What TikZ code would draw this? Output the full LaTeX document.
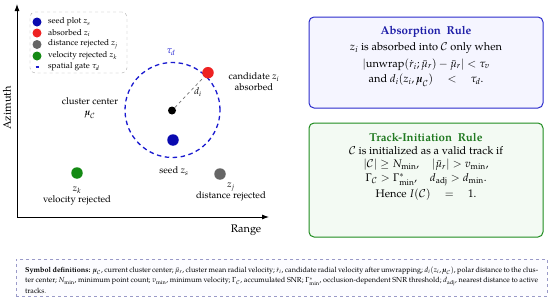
\documentclass[tikz,border=0pt]{standalone}
\usepackage{mathpazo}
\usepackage{amsmath}
\usepackage{fontspec}
\setmainfont{texgyrepagella}[Extension=.otf,UprightFont=*-regular,BoldFont=*-bold,ItalicFont=*-italic,BoldItalicFont=*-bolditalic]
\usetikzlibrary{arrows.meta}
\definecolor{seedblue}{HTML}{0A0AB0}
\definecolor{absred}{HTML}{EE2222}
\definecolor{rejgray}{HTML}{666666}
\definecolor{velgreen}{HTML}{148A14}
\definecolor{gateblue}{HTML}{1A1AD0}
\definecolor{absborder}{HTML}{2A2ACC}
\definecolor{absfill}{HTML}{F5F5FF}
\definecolor{abstitle}{HTML}{1E1EA8}
\definecolor{trkborder}{HTML}{1E8C1E}
\definecolor{trkfill}{HTML}{F3FAF3}
\definecolor{trktitle}{HTML}{217A21}
\definecolor{notebord}{HTML}{9A9AC8}
\definecolor{notefill}{HTML}{FCFCFF}
\begin{document}
\begin{tikzpicture}[x=1pt,y=-1pt,
  axisline/.style={line width=0.9pt,-{Latex[length=7pt,width=5pt]}},
  dot/.style={circle,inner sep=0pt,minimum size=11.5pt},
  ldot/.style={circle,inner sep=0pt,minimum size=9pt},
  lab/.style={font=\fontsize{9.5}{11}\selectfont,inner sep=0pt,align=center},
  legtxt/.style={font=\fontsize{8.3}{10}\selectfont,inner sep=0pt,anchor=west},
  boxtxt/.style={font=\fontsize{11}{13}\selectfont,inner sep=0pt},
  boxtitle/.style={font=\fontsize{11.5}{13}\selectfont\bfseries,inner sep=0pt},
  rulebox/.style={rounded corners=5pt,line width=1pt,minimum width=234pt},
]
\useasboundingbox (0,0) rectangle (550,300);

% axes
\coordinate (o) at (17,217);
\coordinate (ytop) at (17,4);
\coordinate (xend) at (269,217);
\draw[axisline] (o) -- (ytop);
\draw[axisline] (o) -- (xend);
\node[lab,rotate=90,font=\fontsize{11}{13}\selectfont] (az) at (7,108) {Azimuth};
\node[lab,font=\fontsize{11}{13}\selectfont] (rng) at (246,230) {Range};

% legend
\node[draw=black!35,dashed,rounded corners=5pt,minimum width=97pt,minimum height=61pt,inner sep=0pt] (legend) at (78.5,42.5) {};
\node[ldot,fill=seedblue] (l1) at (37,22) {};
\node[ldot,fill=absred] (l2) at (37,33) {};
\node[ldot,fill=rejgray] (l3) at (37,44.5) {};
\node[ldot,fill=velgreen] (l4) at (37,56) {};
\coordinate (l5a) at (35.5,67);
\coordinate (l5b) at (38.5,67);
\draw[gateblue,line width=1.2pt] (l5a) -- (l5b);
\node[legtxt] (t1) at (48,22) {seed plot $z_s$};
\node[legtxt] (t2) at (48,33) {absorbed $z_i$};
\node[legtxt] (t3) at (48,44.5) {distance rejected $z_j$};
\node[legtxt] (t4) at (48,56) {velocity rejected $z_k$};
\node[legtxt] (t5) at (48,67) {spatial gate $\tau_d$};

% gate circle
\node[draw=gateblue,circle,dash pattern=on 4.5pt off 3.5pt,line width=1.3pt,minimum size=95pt,inner sep=0pt] (gate) at (172.5,110) {};
\node[lab,text=gateblue] (taud) at (171,52) {$\tau_d$};
\node[circle,fill=black,inner sep=0pt,minimum size=8pt] (ctr) at (172,110.5) {};
\node[dot,fill=absred] (red) at (208,72.7) {};
\node[dot,fill=seedblue] (seed) at (173,140) {};
\node[dot,fill=velgreen] (green) at (77,173) {};
\node[dot,fill=rejgray] (grey) at (220,174) {};
\draw[black!55,dashed,line width=0.7pt] (ctr) -- (red);
\node[lab] (di) at (198,92) {$d_i$};
\node[lab] (cand) at (254,82) {candidate $z_i$\\absorbed};
\node[lab] (cc) at (90,108) {cluster center\\$\boldsymbol{\mu}_{\mathcal{C}}$};
\node[lab] (seedl) at (174,171) {seed $z_s$};
\node[lab] (zk) at (77,196) {$z_k$\\velocity rejected};
\node[lab] (zj) at (231,192) {$z_j$\\distance rejected};

% absorption rule box
\node[rulebox,draw=absborder,fill=absfill,minimum height=91pt] (abs) at (426,62.5) {};
\node[boxtitle,text=abstitle] (abst) at (426,32) {Absorption\ \ Rule};
\node[boxtxt] (abs1) at (426,48) {$z_i$ is absorbed into $\mathcal{C}$ only when};
\node[boxtxt] (abs2) at (426,64.5) {$|\mathrm{unwrap}(\dot r_i;\bar\mu_r)-\bar\mu_r|<\tau_v$};
\node[boxtxt] (abs3) at (426,80) {and $d_i(z_i,\boldsymbol{\mu}_{\mathcal{C}})\quad<\quad\tau_d.$};

% track initiation box
\node[rulebox,draw=trkborder,fill=trkfill,minimum height=114pt] (trk) at (426,180) {};
\node[boxtitle,text=trktitle] (trkt) at (426,137) {Track-Initiation\ \ Rule};
\node[boxtxt] (trk1) at (426,151) {$\mathcal{C}$ is initialized as a valid track if};
\node[boxtxt] (trk2) at (426,165) {$|\mathcal{C}|\ge N_{\min},\quad |\bar\mu_r|>v_{\min},$};
\node[boxtxt] (trk3) at (426,180) {$\Gamma_{\mathcal{C}}>\Gamma^{*}_{\min},\quad d_{\mathrm{adj}}>d_{\min}.$};
\node[boxtxt] (trk4) at (426,195) {Hence $I(\mathcal{C})\quad=\quad 1.$};

% symbol definitions
\node[draw=notebord,fill=notefill,dashed,line width=0.8pt,minimum width=531pt,minimum height=37pt,inner sep=0pt] (note) at (281.5,277.5) {};
\node[inner sep=0pt,anchor=north west,text width=513pt,align=justify,font=\fontsize{7.3}{10.4}\selectfont] (notetxt) at (25,266.5) {\textbf{Symbol definitions:} $\boldsymbol{\mu}_{\mathcal{C}}$, current cluster center; $\bar\mu_r$, cluster mean radial velocity; $\dot r_i$, candidate radial velocity after unwrapping; $d_i(z_i,\boldsymbol{\mu}_{\mathcal{C}})$, polar distance to the clus-\linebreak ter center; $N_{\mathrm{min}}$, minimum point count; $v_{\mathrm{min}}$, minimum velocity; $\Gamma_{\mathcal{C}}$, accumulated SNR; $\Gamma^{*}_{\mathrm{min}}$, occlusion-dependent SNR threshold; $d_{\mathrm{adj}}$, nearest distance to active\linebreak tracks.};
\end{tikzpicture}
\end{document}
